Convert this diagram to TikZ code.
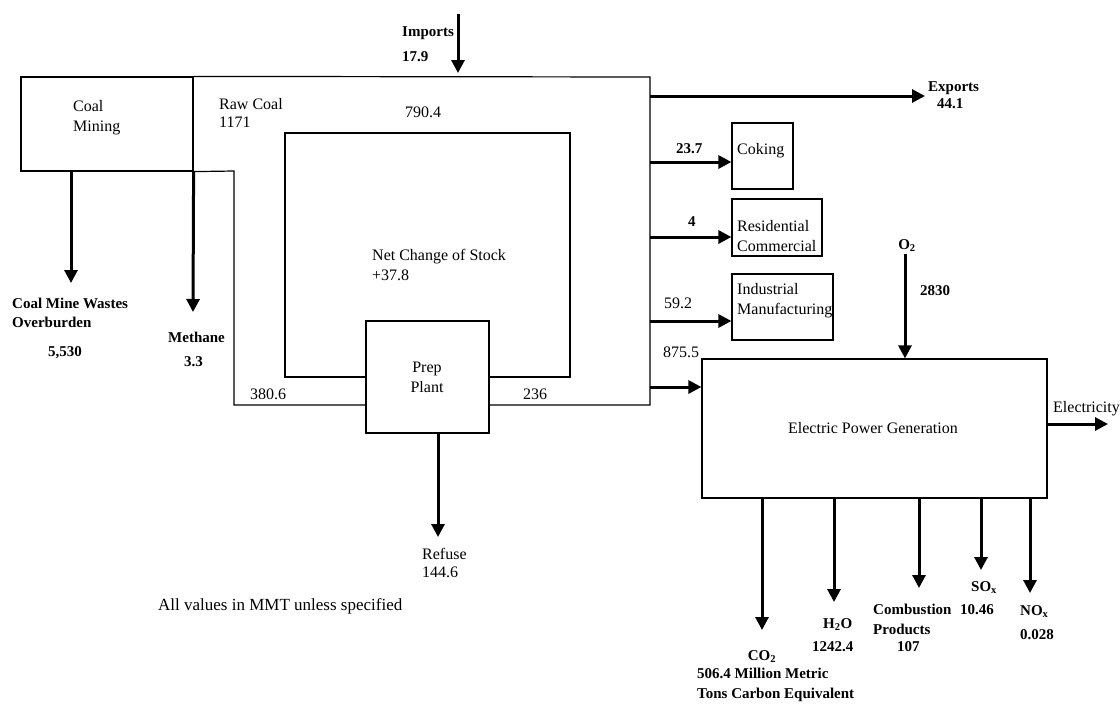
\documentclass[tikz,border=0pt]{standalone}
\usepackage{fontspec}
\setmainfont{Liberation Serif}
\usetikzlibrary{arrows.meta}
\begin{document}
\begin{tikzpicture}[x=1pt,y=-1pt,
 pipe/.style={line width=1.2pt},
 box/.style={draw,line width=1.2pt,rectangle,inner sep=0pt},
 flow/.style={line width=3pt,-{Triangle[length=13pt,width=13pt]}},
 lbl/.style={inner sep=0pt,anchor=west,font=\fontsize{16}{19}\selectfont,text height=11pt,text depth=3pt},
 blbl/.style={inner sep=0pt,anchor=west,font=\fontsize{15}{18}\selectfont\bfseries,text height=10pt,text depth=3pt},
 clbl/.style={lbl,anchor=center},
]
\useasboundingbox (0,0) rectangle (1120,705);

% boxes
\node[box,minimum width=172pt,minimum height=94pt] (cm) at (107,124) {};
\node[box,minimum width=123pt,minimum height=112pt] (prep) at (427.5,377) {};
\node[box,minimum width=61pt,minimum height=66pt] (coking) at (762.5,156) {};
\node[box,minimum width=90pt,minimum height=57pt] (res) at (777,227.5) {};
\node[box,minimum width=101pt,minimum height=66pt] (ind) at (782.5,307) {};
\node[box,minimum width=345pt,minimum height=139pt] (epg) at (874.5,428.5) {};

% raw coal flow lines
\coordinate (tr) at (650,77);
\coordinate (br) at (650,405);
\coordinate (cmx) at (234,171);
\coordinate (bl) at (234,405);
\draw[pipe] (cm.north east) -- (tr) -- (br) -- (br -| prep.east);
\draw[pipe] (cm.south east) -- (cmx) -- (bl) -- (bl -| prep.west);
\coordinate (i1) at (285,377);
\coordinate (i2) at (285,133);
\coordinate (i3) at (570,133);
\coordinate (i4) at (570,377);
\draw[pipe] (i1 -| prep.west) -- (i1) -- (i2) -- (i3) -- (i4) -- (i4 -| prep.east);

% arrows
\coordinate (imp0) at (458,14);
\coordinate (imp1) at (458,73);
\draw[flow] (imp0) -- (imp1);
\coordinate (ex0) at (650,96);
\coordinate (ex1) at (925,96);
\draw[flow] (ex0) -- (ex1);
\coordinate (ck0) at (650,162);
\draw[flow] (ck0) -- (ck0 -| coking.west);
\coordinate (rs0) at (650,237);
\draw[flow] (rs0) -- (rs0 -| res.west);
\coordinate (in0) at (650,321);
\draw[flow] (in0) -- (in0 -| ind.west);
\coordinate (ep0) at (650,387);
\draw[flow] (ep0) -- (ep0 -| epg.west);
\coordinate (o2s) at (905,254);
\draw[flow] (o2s) -- (o2s |- epg.north);
\coordinate (el1) at (1108,424);
\draw[flow] (el1 -| epg.east) -- (el1);
\coordinate (co2t) at (762,630);
\coordinate (h2ot) at (834,602);
\coordinate (combt) at (919,588);
\coordinate (soxt) at (981,570);
\coordinate (noxt) at (1030,593);
\foreach \t in {co2t,h2ot,combt,soxt,noxt}{\draw[flow] (\t |- epg.south) -- (\t);}
\coordinate (reft) at (438,537);
\draw[flow] (reft |- prep.south) -- (reft);
\coordinate (wt) at (71,283);
\draw[flow] (wt |- cm.south) -- (wt);
\coordinate (mt) at (193,312);
\draw[flow] (cm.south east) -- (mt);

% regular labels
\node[lbl] (t1) at (73,107) {Coal};
\node[lbl] (t2) at (73,127) {Mining};
\node[lbl] (t3) at (219,105) {Raw Coal};
\node[lbl] (t4) at (219,123) {1171};
\node[lbl] (t5) at (405,113) {790.4};
\node[lbl] (t6) at (372,256) {Net Change of Stock};
\node[lbl] (t7) at (372,276) {+37.8};
\node[clbl] (t8) at (427,368) {Prep};
\node[clbl] (t9) at (427,388) {Plant};
\node[lbl] (t10) at (250,395) {380.6};
\node[lbl] (t11) at (523,395) {236};
\node[lbl] (t12) at (422,555) {Refuse};
\node[lbl] (t13) at (422,573) {144.6};
\node[lbl] (t14) at (737,150) {Coking};
\node[lbl] (t15) at (737,227) {Residential};
\node[lbl] (t16) at (737,247) {Commercial};
\node[lbl] (t17) at (737,290) {Industrial};
\node[lbl] (t18) at (737,310) {Manufacturing};
\node[lbl] (t19) at (664,304) {59.2};
\node[lbl] (t20) at (663,353) {875.5};
\node[clbl] (t21) at (873,429) {Electric Power Generation};
\node[lbl] (t22) at (1053,408) {Electricity};
\node[lbl,font=\fontsize{17}{21}\selectfont] (t23) at (158,606) {All values in MMT unless specified};

% bold labels
\node[blbl] (b1) at (402,33) {Imports};
\node[blbl] (b2) at (402,58) {17.9};
\node[blbl] (b3) at (928,88) {Exports};
\node[blbl] (b4) at (937,105) {44.1};
\node[blbl] (b5) at (676,150) {23.7};
\node[blbl] (b6) at (688,223) {4};
\node[blbl,anchor=center] (b7) at (907,246) {O\textsubscript{2}};
\node[blbl] (b8) at (920,292) {2830};
\node[blbl] (b9) at (12,305) {Coal Mine Wastes};
\node[blbl] (b10) at (12,324) {Overburden};
\node[blbl] (b11) at (48,353) {5,530};
\node[blbl] (b12) at (168,339) {Methane};
\node[blbl] (b13) at (184,363) {3.3};
\node[blbl,anchor=center] (b14) at (762,657) {CO\textsubscript{2}};
\node[blbl] (b15) at (697,675) {506.4 Million Metric};
\node[blbl] (b16) at (697,695) {Tons Carbon Equivalent};
\node[blbl] (b17) at (823,625) {H\textsubscript{2}O};
\node[blbl] (b18) at (812,648) {1242.4};
\node[blbl] (b19) at (873,611) {Combustion};
\node[blbl] (b20) at (873,631) {Products};
\node[blbl] (b21) at (897,648) {107};
\node[blbl] (b22) at (971,588) {SO\textsubscript{x}};
\node[blbl] (b23) at (960,611) {10.46};
\node[blbl] (b24) at (1020,612) {NO\textsubscript{x}};
\node[blbl] (b25) at (1020,636) {0.028};
\end{tikzpicture}
\end{document}
